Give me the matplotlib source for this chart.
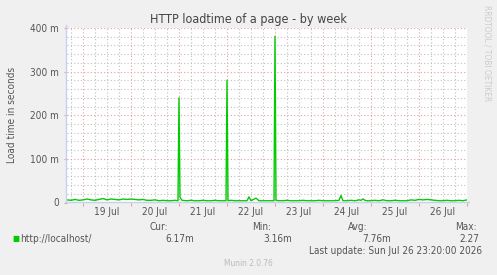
import matplotlib
matplotlib.use("Agg")
import matplotlib.pyplot as plt
import numpy as np

plt.rcParams["font.family"] = "DejaVu Sans"
plt.rcParams["font.stretch"] = "condensed"

# hours since Jul 18 16:00, load time in ms
hours = [0, 2, 4, 6, 8, 10, 12, 14, 16, 18, 20, 22, 24, 26, 28, 30, 32, 34, 36,
         38, 40, 42, 44, 46, 48, 50, 52, 54, 55.5, 56, 56.5, 57.5,
         60, 62, 64, 66, 68, 70, 72, 74, 76, 78, 79.5, 80, 80.5,
         82, 84, 86, 88, 90, 91, 92, 94.5, 96, 98, 100, 102, 103.5, 104, 104.5,
         106, 108, 110, 112, 114, 116, 118, 120, 122, 124, 126, 128, 130, 132,
         134, 136, 137, 138, 140, 142, 144, 146, 147, 148, 149, 150, 152, 154,
         156, 158, 160, 162, 164, 166, 168, 170, 172, 174, 176, 178, 180, 182,
         184, 186, 188, 190, 192, 194, 196, 198, 200]
load_ms = [6, 5, 7, 5, 6, 8, 6, 5, 7, 9, 6, 8, 7, 6, 8, 7, 8, 7, 6,
           7, 5, 5, 6, 4, 5, 4, 4, 5, 4, 240, 12, 5,
           4, 5, 4, 4, 5, 4, 4, 5, 4, 4, 4, 280, 4,
           5, 4, 4, 4, 4, 13, 4, 10, 4, 4, 4, 4, 4, 381, 5,
           4, 4, 5, 4, 4, 4, 5, 4, 4, 4, 5, 4, 4, 4,
           4, 5, 16, 4, 4, 5, 4, 6, 5, 8, 5, 4, 4, 5,
           4, 6, 4, 4, 5, 4, 4, 4, 6, 5, 7, 6, 7, 6,
           5, 4, 4, 5, 4, 4, 5, 4, 6]

day_labels = ["19 Jul", "20 Jul", "21 Jul", "22 Jul", "23 Jul", "24 Jul", "25 Jul", "26 Jul"]
y_ticks = [0, 100, 200, 300, 400]
y_labels = ["0", "100 m", "200 m", "300 m", "400 m"]

legend_name = "http://localhost/"
stat_names = ["Cur:", "Min:", "Avg:", "Max:"]
stat_values = ["6.17m", "3.16m", "7.76m", "2.27"]

FS = 7.2
TXT = "#555555"

W, H = 497, 275
fig = plt.figure(figsize=(W / 100, H / 100), dpi=100, facecolor="#f0f0f0")
ax = fig.add_axes([67 / W, 1 - 202.5 / H, 400 / W, (202.5 - 28) / H])
ax.set_facecolor("white")

ax.plot(hours, load_ms, color="#00cc00", lw=1.0, zorder=3)

ax.set_xlim(0, 200)
ax.set_ylim(0, 400)

midnights = np.arange(8, 201, 24)
six_hours = np.arange(2, 201, 6)
ax.set_xticks(midnights)
ax.set_xticks(six_hours, minor=True)
ax.set_xticklabels([])
ax.set_yticks(y_ticks, y_labels)
ax.set_yticks(np.arange(0, 401, 20), minor=True)

ax.grid(which="minor", color="#c0c0c0", linestyle=(0, (1, 2)), lw=0.8)
ax.grid(which="major", color="#e5a0a0", linestyle=(0, (1, 2)), lw=0.8)
ax.tick_params(which="both", length=2, color="#e5a0a0", labelsize=FS,
               labelcolor=TXT, pad=4)
ax.tick_params(axis="y", which="minor", length=0)
ax.tick_params(axis="x", which="minor", length=0)

for s in ax.spines.values():
    s.set_visible(False)

for i, lab in enumerate(day_labels):
    ax.text(20 + 24 * i, -11, lab, ha="center", va="top", fontsize=FS,
            color=TXT, transform=ax.transData, clip_on=False)

# axis arrows
arrow = dict(arrowstyle="-|>,head_length=0.5,head_width=0.2", color="#c8d0f0", lw=1)
fig.add_artist(matplotlib.patches.FancyArrowPatch(
    (66.5 / W, 1 - 205 / H), (66.5 / W, 1 - 21 / H), transform=fig.transFigure, **arrow))
fig.add_artist(matplotlib.patches.FancyArrowPatch(
    (63 / W, 1 - 202.5 / H), (474 / W, 1 - 202.5 / H), transform=fig.transFigure, **arrow))

fig.text(248 / W, 1 - 20 / H, "HTTP loadtime of a page - by week", ha="center",
         va="center", fontsize=9, color="#444444")
fig.text(12 / W, 1 - 115 / H, "Load time in seconds", rotation=90, ha="center",
         va="center", fontsize=FS, color=TXT)
fig.text(487 / W, 1 - 5 / H, "RRDTOOL / TOBI OETIKER", rotation=270, ha="center",
         va="top", fontsize=6, color="#cccccc")

# legend
fig.text(16 / W, 1 - 239 / H, "\u25a0", ha="center", va="center", fontsize=6, color="#00cc00")
fig.text(20 / W, 1 - 239 / H, legend_name, ha="left", va="center", fontsize=FS, color=TXT)
name_right = [168, 271, 367, 477]
value_right = [194, 292, 391, 479]
for n, v, xn, xv in zip(stat_names, stat_values, name_right, value_right):
    fig.text(xn / W, 1 - 227 / H, n, ha="right", va="center", fontsize=FS, color=TXT)
    fig.text(xv / W, 1 - 239 / H, v, ha="right", va="center", fontsize=FS, color=TXT)
fig.text(482 / W, 1 - 251 / H, "Last update: Sun Jul 26 23:20:00 2026", ha="right",
         va="center", fontsize=FS, color=TXT)
fig.text(248 / W, 1 - 263 / H, "Munin 2.0.76", ha="center", va="center",
         fontsize=6, color="#bbbbbb")

fig.savefig("out.png", dpi=100, facecolor=fig.get_facecolor())
